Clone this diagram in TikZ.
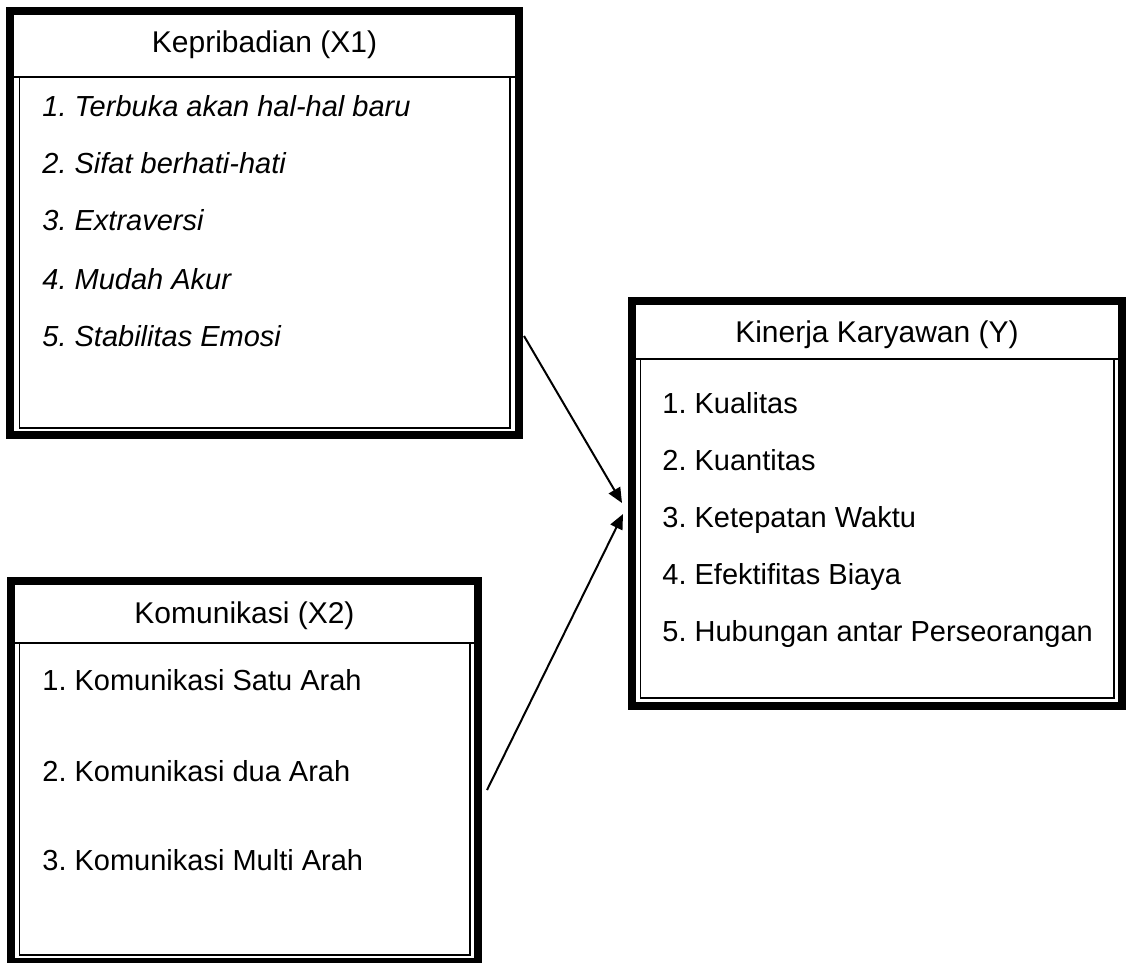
\documentclass[tikz,border=0pt]{standalone}
\usepackage{fontspec}
\setmainfont{Liberation Sans}
\usetikzlibrary{calc, arrows.meta}

\begin{document}
\frenchspacing
\begin{tikzpicture}[
    x=0.5pt, y=-0.5pt,
    frame/.style={draw, line width=4.25pt, rectangle, outer sep=0pt, inner sep=0pt},
    rule/.style={line width=0.75pt},
    title/.style={anchor=base, inner sep=0pt, font=\fontsize{15pt}{18pt}\selectfont},
    item/.style={anchor=base west, inner sep=0pt, font=\fontsize{14.5pt}{17pt}\selectfont},
    itemit/.style={item, font=\fontsize{14.5pt}{17pt}\selectfont\itshape},
    arr/.style={-{Triangle[length=7.5pt, width=6.5pt]}, line width=1pt}
  ]
    \useasboundingbox (0,0) rectangle (1127,962);

    % Kepribadian (X1)
    \node[frame, minimum width=254.5pt, minimum height=212pt] (kep) at (264.5,223) {};
    \draw[rule] (10,77) -- (519,77);
    \draw[rule] (19.5,77) rectangle (510,428);
    \node[title] (kept) at (264.5,53) {Kepribadian (X1)};
    \node[itemit] (kep1) at (42,117) {1. Terbuka akan hal-hal baru};
    \node[itemit] (kep2) at (42,174) {2. Sifat berhati-hati};
    \node[itemit] (kep3) at (42,231) {3. Extraversi};
    \node[itemit] (kep4) at (42,289) {4. Mudah Akur};
    \node[itemit] (kep5) at (42,346) {5. Stabilitas Emosi};

    % Komunikasi (X2)
    \node[frame, minimum width=233.5pt, minimum height=190.5pt] (kom) at (244.5,771.5) {};
    \draw[rule] (11,643) -- (478,643);
    \draw[rule] (19.5,643) rectangle (470,955);
    \node[title] (komt) at (244.5,623) {Komunikasi (X2)};
    \node[item] (kom1) at (42,690) {1. Komunikasi Satu Arah};
    \node[item] (kom2) at (42,781) {2. Komunikasi dua Arah};
    \node[item] (kom3) at (42,870) {3. Komunikasi Multi Arah};

    % Kinerja Karyawan (Y)
    \node[frame, minimum width=245pt, minimum height=202.5pt] (kin) at (877,503.5) {};
    \draw[rule] (632,359) -- (1122,359);
    \draw[rule] (640.5,359) rectangle (1114,698);
    \node[title] (kint) at (877,342) {Kinerja Karyawan (Y)};
    \node[item] (kin1) at (662,413) {1. Kualitas};
    \node[item] (kin2) at (662,470) {2. Kuantitas};
    \node[item] (kin3) at (662,527) {3. Ketepatan Waktu};
    \node[item] (kin4) at (662,584) {4. Efektifitas Biaya};
    \node[item] (kin5) at (662,641) {5. Hubungan antar Perseorangan};

    % arrows
    \coordinate (kepout) at (524,336);
    \coordinate (komout) at (487,790);
    \coordinate (kinin1) at (622,503);
    \coordinate (kinin2) at (623,514);
    \draw[arr] (kepout) -- (kinin1);
    \draw[arr] (komout) -- (kinin2);
  \end{tikzpicture}
\end{document}
